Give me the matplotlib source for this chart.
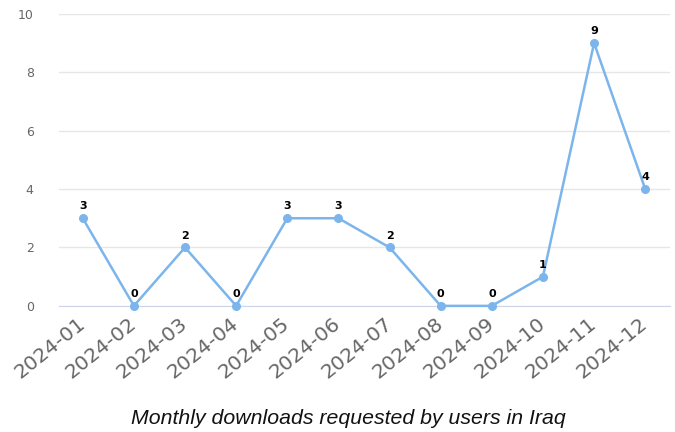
import matplotlib.pyplot as plt

months = ['2024-01', '2024-02', '2024-03', '2024-04', '2024-05', '2024-06',
          '2024-07', '2024-08', '2024-09', '2024-10', '2024-11', '2024-12']
downloads = [3, 0, 2, 0, 3, 3, 2, 0, 0, 1, 9, 4]

fig = plt.figure(figsize=(6.75, 4.32), dpi=100)
ax = fig.add_axes([0.087, 0.292, 0.906, 0.676])

x = list(range(len(months)))
ax.plot(x, downloads, color='#7cb5ec', linewidth=1.8, marker='o', markersize=5.5, zorder=3,
        clip_on=False)
for xi, v in zip(x, downloads):
    ax.annotate(str(v), (xi, v), xytext=(0, 5), textcoords='offset points',
                ha='center', va='bottom', fontsize=8, fontweight='bold', color='black')

ax.set_xlim(-0.47, 11.49)
ax.set_ylim(0, 10)
ax.set_yticks([0, 2, 4, 6, 8, 10])
ax.set_xticks(x)
ax.set_xticklabels(months, rotation=39, ha='right', va='center', rotation_mode='anchor',
                   fontsize=14.6, color='#666666')
ax.tick_params(axis='y', labelsize=9, labelcolor='#666666', length=0, pad=18)
ax.tick_params(axis='x', length=0, pad=11)
ax.grid(axis='y', color='#e6e6e6', linewidth=1)
ax.set_axisbelow(True)
for s in ['top', 'right', 'left']:
    ax.spines[s].set_visible(False)
ax.spines['bottom'].set_color('#ccd6eb')

fig.text(0.516, 0.018, 'Monthly downloads requested by users in Iraq', ha='center',
         fontsize=15.3, style='italic', color='#111111', family='Liberation Sans')

fig.savefig('out.png')
